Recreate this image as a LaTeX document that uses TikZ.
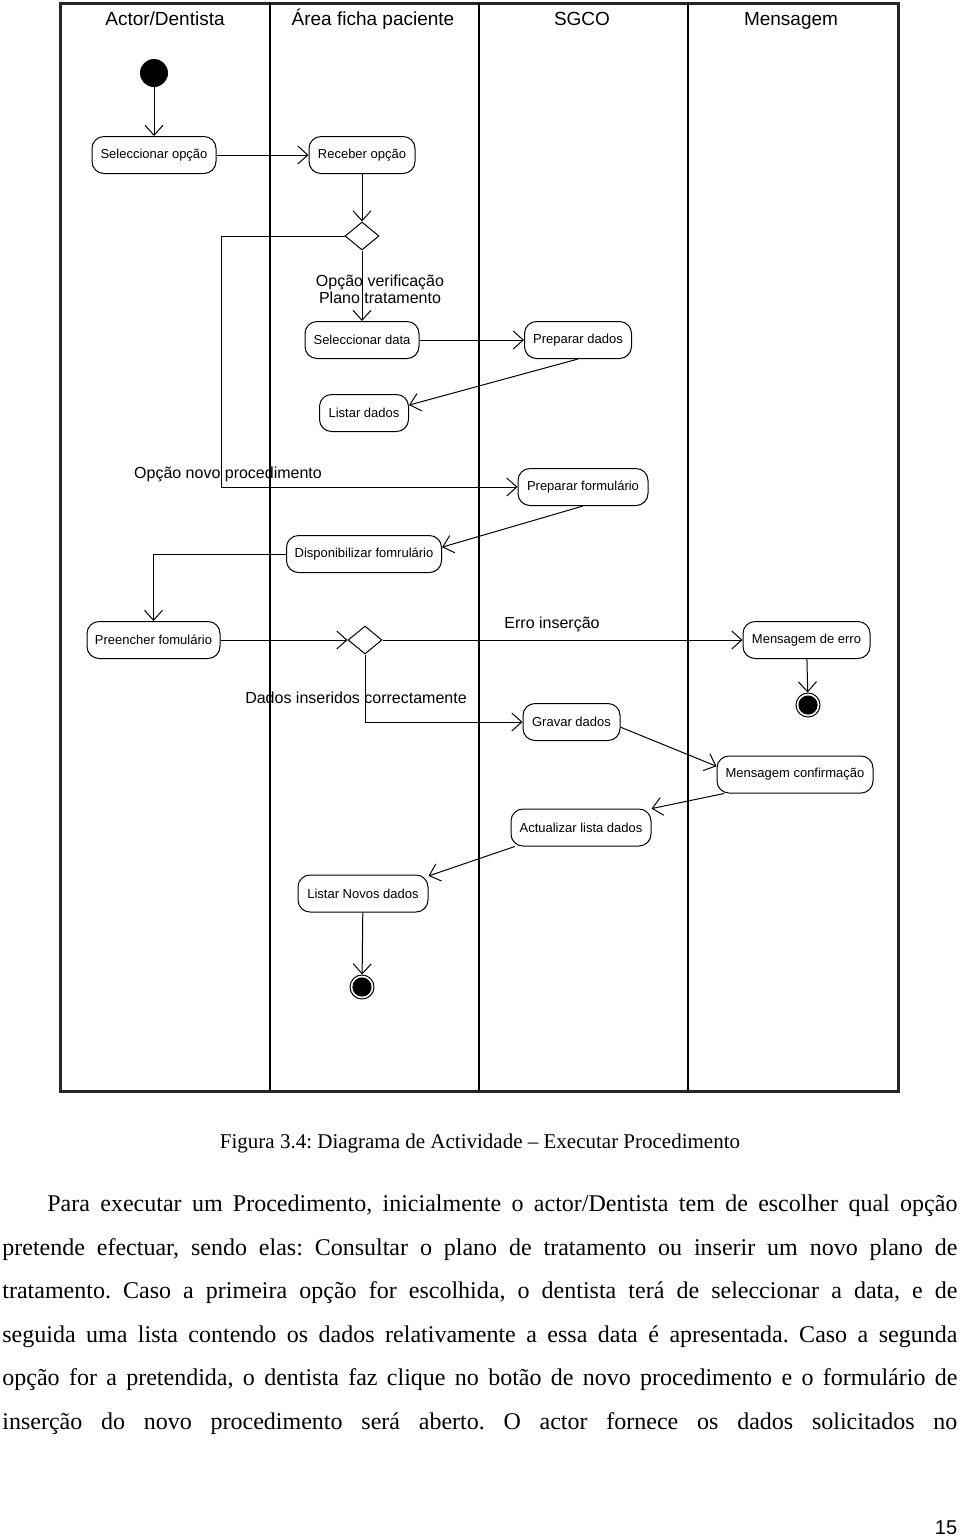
\documentclass[tikz,border=0pt]{standalone}
\usepackage{fontspec}
\setmainfont{Liberation Serif}
\setsansfont{Liberation Sans}
\newfontfamily\bodyfont{Liberation Serif}
\usetikzlibrary{arrows.meta,shapes.geometric,calc}
\begin{document}
\frenchspacing
\begin{tikzpicture}[x=0.5pt,y=-0.5pt,
  act/.style={draw, rounded corners=6pt, minimum height=18.5pt, inner sep=0pt, font=\sffamily\fontsize{6.5}{7.5}\selectfont, line width=0.5pt},
  dec/.style={draw, diamond, minimum width=17pt, minimum height=14pt, inner sep=0pt, line width=0.5pt},
  startnode/.style={circle, fill=black, minimum size=14pt, inner sep=0pt},
  endnode/.style={circle, draw, line width=0.5pt, minimum size=12pt, inner sep=0pt},
  flow/.style={-{Straight Barb[length=5pt,width=9pt]}, line width=0.5pt},
  lbl/.style={font=\sffamily\fontsize{8}{8.5}\selectfont, inner sep=0pt, align=center},
  hdr/.style={font=\sffamily\fontsize{9.5}{10}\selectfont, inner sep=0pt, anchor=base},
  body/.style={anchor=base west, inner sep=0pt, font=\bodyfont\fontsize{12}{14}\selectfont}
]
\useasboundingbox (0,0) rectangle (960,1539);
% frame and lanes
\draw[line width=1.5pt, black!85] (60,3) rectangle (898,1091);
\draw[line width=0.8pt] (270,3) -- (270,1091);
\draw[line width=0.8pt] (479,3) -- (479,1091);
\draw[line width=0.8pt] (688,3) -- (688,1091);
\node[hdr] (h1) at (165,25) {Actor/Dentista};
\node[hdr] (h2) at (373,25) {Área ficha paciente};
\node[hdr] (h3) at (582,25) {SGCO};
\node[hdr] (h4) at (791,25) {Mensagem};
% nodes
\node[startnode] (s) at (154,73) {};
\node[act, minimum width=62pt] (so) at (154,155) {Seleccionar opção};
\node[act, minimum width=53pt] (ro) at (362,155) {Receber opção};
\node[dec] (d1) at (362,236) {};
\node[act, minimum width=57pt] (sd) at (362,340) {Seleccionar data};
\node[act, minimum width=53.5pt] (pd) at (578,340) {Preparar dados};
\node[act, minimum width=44.5pt] (ld) at (364,413) {Listar dados};
\node[act, minimum width=65pt] (pf) at (583,487) {Preparar formulário};
\node[act, minimum width=77.5pt] (dp) at (364,554) {Disponibilizar fomrulário};
\node[act, minimum width=66.5pt] (pr) at (153.5,640) {Preencher fomulário};
\node[dec] (d2) at (365,640) {};
\node[act, minimum width=63.5pt] (me) at (806.5,640) {Mensagem de erro};
\node[endnode] (e1) at (808,705) {};
\fill (e1.center) circle (4.8pt);
\node[act, minimum width=48.5pt] (gd) at (571.5,722) {Gravar dados};
\node[act, minimum width=78pt] (mc) at (795,774.5) {Mensagem confirmação};
\node[act, minimum width=70pt] (al) at (581,827.5) {Actualizar lista dados};
\node[act, minimum width=65pt] (ln) at (363,893.5) {Listar Novos dados};
\node[endnode] (e2) at (362,987) {};
\fill (e2.center) circle (4.8pt);
\coordinate (k1) at (221,487);
% labels
\node[lbl] (l1) at (380,289.5) {Opção verificação\\Plano tratamento};
\node[lbl] (l2) at (228,474) {Opção novo procedimento};
\node[lbl] (l3) at (552,624) {Erro inserção};
\node[lbl] (l4) at (356,698) {Dados inseridos correctamente};
% connectors
\draw[flow] (s) -- (so);
\draw[flow] (so) -- (ro);
\draw[flow] (ro) -- (d1);
\draw[flow] (d1.west) -| (k1) -- (pf.west);
\draw[flow] (d1) -- (sd);
\draw[flow] (sd) -- (pd);
\draw[flow] (pd.south) -- (ld.10);
\draw[flow] (pf.south) -- (dp.5);
\draw[flow] (dp.west) -| (pr.north);
\draw[flow] (pr) -- (d2);
\draw[flow] (d2) -- (me);
\draw[flow] (me) -- (e1);
\draw[flow] (d2.south) |- (gd.west);
\draw[flow] (gd.-6) -- (mc.174);
\draw[flow] (mc.195) -- (al.15);
\draw[flow] (al.196) -- (ln.15);
\draw[flow] (ln) -- (e2);
% caption and text
\node[inner sep=0pt, font=\bodyfont\fontsize{10.5}{12}\selectfont] (cap) at (480,1143) {Figura 3.4: Diagrama de Actividade – Executar Procedimento};
\node[body] (t1) at (47,1211) {\makebox[455pt][s]{Para executar um Procedimento, inicialmente o actor/Dentista tem de escolher qual opção}};
\node[body] (t2) at (2,1255) {\makebox[477.5pt][s]{pretende efectuar, sendo elas: Consultar o plano de tratamento ou inserir um novo plano de}};
\node[body] (t3) at (2,1298) {\makebox[477.5pt][s]{tratamento. Caso a primeira opção for escolhida, o dentista terá de seleccionar a data, e de}};
\node[body] (t4) at (2,1342) {\makebox[477.5pt][s]{seguida uma lista contendo os dados relativamente a essa data é apresentada. Caso a segunda}};
\node[body] (t5) at (2,1385) {\makebox[477.5pt][s]{opção for a pretendida, o dentista faz clique no botão de novo procedimento e o formulário de}};
\node[body] (t6) at (2,1429) {\makebox[477.5pt][s]{inserção do novo procedimento será aberto. O actor fornece os dados solicitados no}};
\node[inner sep=0pt, font=\sffamily\fontsize{10}{12}\selectfont] (pg) at (946,1528) {15};
\end{tikzpicture}
\end{document}
